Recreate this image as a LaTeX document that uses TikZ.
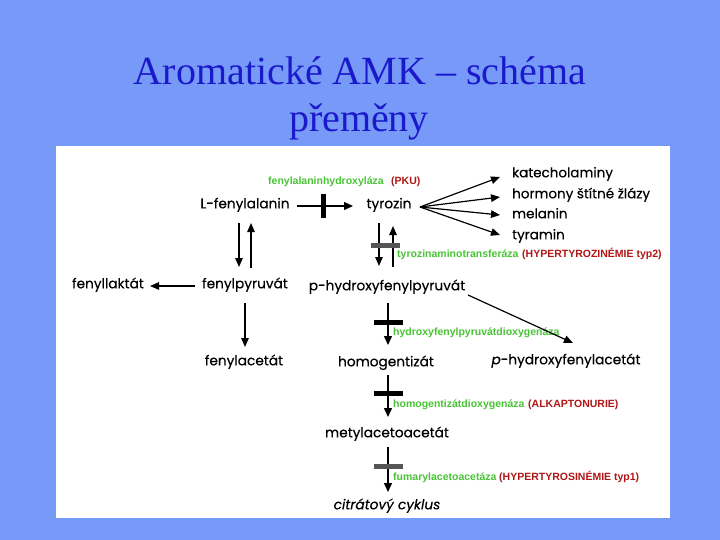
\documentclass[tikz,border=0pt]{standalone}
\usepackage{fontspec}
\setmainfont{Liberation Serif}
\newfontfamily\diag{Poppins}[FakeBold=0.3]
\newfontfamily\enz{Liberation Sans}
\usetikzlibrary{arrows.meta}
\definecolor{bg}{RGB}{119,153,247}
\definecolor{ttl}{RGB}{26,26,204}
\definecolor{enzg}{RGB}{72,196,52}
\definecolor{dred}{RGB}{176,22,22}
\definecolor{bargray}{RGB}{85,85,85}
\begin{document}
\begin{tikzpicture}[x=1pt,y=-1pt,
  ttlstyle/.style={font=\fontsize{40}{44}\selectfont, text=ttl, inner sep=0pt, anchor=base},
  met/.style={font=\diag\fontsize{13.7}{15}\selectfont, inner sep=0pt, anchor=mid},
  bigmet/.style={font=\diag\fontsize{13.5}{15}\selectfont, inner sep=0pt, anchor=mid west},
  enzl/.style={font=\enz\bfseries\fontsize{10.5}{12}\selectfont, text=enzg, inner sep=0pt, anchor=mid west},
  dis/.style={font=\enz\bfseries\fontsize{10.5}{12}\selectfont, text=dred, inner sep=0pt, anchor=mid west},
  arr/.style={line width=1.4pt, -{Triangle[length=9pt,width=8pt]}},
  thinarr/.style={line width=1.2pt, -{Triangle[length=9pt,width=7.5pt]}},
  barv/.style={fill=black, inner sep=0pt, minimum width=4.5pt, minimum height=24pt},
  barh/.style={fill=#1, inner sep=0pt, minimum width=29pt, minimum height=5pt},
  barh/.default=black]
\useasboundingbox (0,0) rectangle (720,540);
\fill[bg] (0,0) rectangle (720,540);
\fill[white] (56,146) rectangle (670,518);
% title
\node[ttlstyle] (t1) at (360,85) {Aromatické AMK – schéma};
\node[ttlstyle] (t2) at (359,132) {přeměny};
% metabolites
\node[met] (lphe) at (245,206) {L-fenylalanin};
\node[met] (tyr) at (389,206) {tyrozin};
\node[met] (fpyr) at (245,286) {fenylpyruvát};
\node[met] (flak) at (108,286) {fenyllaktát};
\node[met] (facet) at (244,363) {fenylacetát};
\node[met] (hpp) at (387,288) {p-hydroxyfenylpyruvát};
\node[met] (hpa) at (566,362) {\itshape p\upshape-hydroxyfenylacetát};
\node[met] (hga) at (386,364) {homogentizát};
\node[met] (maa) at (387,435) {metylacetoacetát};
\node[met] (cit) at (387,507) {\itshape citrátový cyklus};
\node[bigmet] (kat) at (512,175) {katecholaminy};
\node[bigmet] (horm) at (512,196) {hormony štítné žlázy};
\node[bigmet] (mel) at (512,216) {melanin};
\node[bigmet] (tyra) at (512,237) {tyramin};
% enzymes and diseases
\node[enzl] (e1) at (268,182) {fenylalaninhydroxyláza};
\node[dis] (d1) at (391,182) {(PKU)};
\node[enzl] (e2) at (397,255) {tyrozinaminotransferáza};
\node[dis] (d2) at (522,255) {(HYPERTYROZINÉMIE typ2)};
\node[enzl] (e3) at (393,333) {hydroxyfenylpyruvátdioxygenáza};
\node[enzl] (e4) at (393,405) {homogentizátdioxygenáza};
\node[dis] (d4) at (528,405) {(ALKAPTONURIE)};
\node[enzl] (e5) at (393,478) {fumarylacetoacetáza};
\node[dis] (d5) at (499,478) {(HYPERTYROSINÉMIE typ1)};
% arrows
\draw[arr] ([shift={(52,0)}]lphe.mid) -- node[pos=0.47,barv]{} ([shift={(-36,0)}]tyr.mid);
\coordinate (fan) at ([shift={(31,1)}]tyr.mid);
\draw[thinarr] (fan) -- ([shift={(-12,2)}]kat.mid west);
\draw[thinarr] (fan) -- ([shift={(-12,1)}]horm.mid west);
\draw[thinarr] (fan) -- ([shift={(-12,-1)}]mel.mid west);
\draw[thinarr] (fan) -- ([shift={(-12,-2)}]tyra.mid west);
\draw[thinarr] ([shift={(-6,17)}]lphe.mid) -- ([shift={(-6,-19)}]fpyr.mid);
\draw[thinarr] ([shift={(6,-18)}]fpyr.mid) -- ([shift={(6,17)}]lphe.mid);
\draw[thinarr] ([shift={(-50,0)}]fpyr.mid) -- ([shift={(42,0)}]flak.mid);
\draw[thinarr] ([shift={(0,17)}]fpyr.mid) -- ([shift={(1,-16)}]facet.mid);
\draw[thinarr] ([shift={(-10,17)}]tyr.mid) -- ([shift={(-8,-22)}]hpp.mid);
\draw[thinarr] ([shift={(6,-21)}]hpp.mid) -- ([shift={(4,20)}]tyr.mid);
\node[barh=bargray] (b1) at (385,245) {};
\draw[thinarr] ([shift={(81,7)}]hpp.mid) -- ([shift={(7,-19)}]hpa.mid);
\draw[arr] ([shift={(1,15)}]hpp.mid) -- node[pos=0.47,barh]{} ([shift={(2,-19)}]hga.mid);
\draw[arr] ([shift={(2,11)}]hga.mid) -- node[pos=0.45,barh]{} ([shift={(1,-18)}]maa.mid);
\draw[arr] ([shift={(1,12)}]maa.mid) -- node[pos=0.44,barh=bargray]{} ([shift={(1,-15)}]cit.mid);
\end{tikzpicture}
\end{document}
